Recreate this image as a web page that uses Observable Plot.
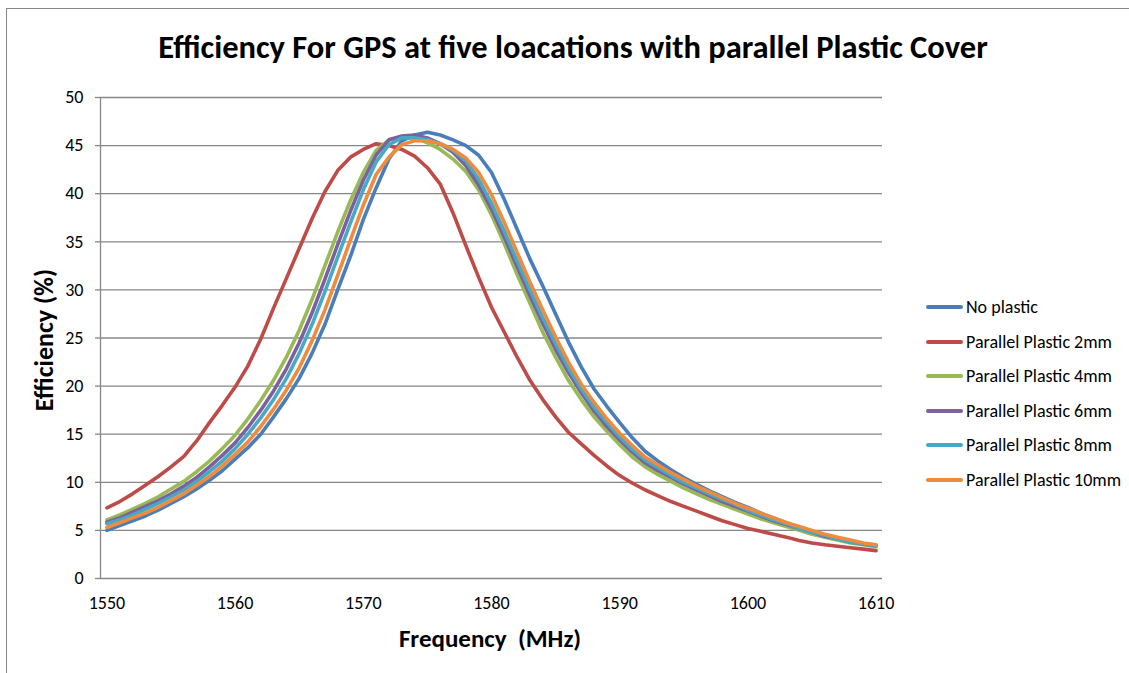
<!DOCTYPE html>
<html>
<head>
<meta charset="utf-8">
<script src="https://cdn.jsdelivr.net/npm/d3@7"></script>
<script src="https://cdn.jsdelivr.net/npm/@observablehq/plot@0.6"></script>
<style>
  html, body { margin: 0; padding: 0; background: #fff; overflow: hidden; }
  #wrap { position: relative; width: 1129px; height: 673px; overflow: hidden; font-family: Carlito, Calibri, Lato, sans-serif; }
  #border { position: absolute; left: 6px; top: 8px; width: 1140px; height: 700px; border: 1px solid #878787; box-sizing: border-box; }
  #title { position: absolute; left: 573px; top: 47px; transform: translate(-50%, -50%); font-weight: bold; font-size: 32.5px; color: #000; white-space: nowrap; line-height: 1; }
  #ylabel { position: absolute; left: 44px; top: 340px; transform: translate(-50%, -50%) rotate(-90deg); font-weight: bold; font-size: 26px; white-space: nowrap; color: #000; line-height: 1; }
  #xlabel { position: absolute; left: 490px; top: 638px; transform: translate(-50%, -50%); font-weight: bold; font-size: 25px; white-space: pre; color: #000; line-height: 1; }
  #chart { position: absolute; left: 0; top: 0; }
  .leg { position: absolute; left: 926px; height: 22px; display: flex; align-items: center; font-size: 18px; color: #000; white-space: nowrap; transform: translateY(-50%); }
  .leg .sw { width: 37px; height: 4px; border-radius: 2px; margin-right: 3px; }
</style>
</head>
<body>
<div id="wrap">
  <div id="border"></div>
  <div id="chart"></div>
  <div id="title"></div>
  <div id="ylabel"></div>
  <div id="xlabel"></div>
</div>
<script>
const titleText = "Efficiency For GPS at five loacations with parallel Plastic Cover";
const xTitle = "Frequency  (MHz)";
const yTitle = "Efficiency (%)";

const freqs = [1550,1551,1552,1553,1554,1555,1556,1557,1558,1559,1560,1561,1562,1563,1564,1565,1566,1567,1568,1569,1570,1571,1572,1573,1574,1575,1576,1577,1578,1579,1580,1581,1582,1583,1584,1585,1586,1587,1588,1589,1590,1591,1592,1593,1594,1595,1596,1597,1598,1599,1600,1601,1602,1603,1604,1605,1606,1607,1608,1609,1610];
const xTicks = [1550,1560,1570,1580,1590,1600,1610];
const yTicks = [0,5,10,15,20,25,30,35,40,45,50];

const seriesNames = ["No plastic","Parallel Plastic 2mm","Parallel Plastic 4mm","Parallel Plastic 6mm","Parallel Plastic 8mm","Parallel Plastic 10mm"];
const seriesColors = ["#4A7EBB","#BE4B48","#98B954","#7D60A0","#46AAC5","#F08A3C"];

const noPlastic = [5.0,5.5,6.0,6.5,7.1,7.8,8.5,9.3,10.2,11.2,12.4,13.6,15.0,16.8,18.7,20.8,23.4,26.4,30.0,33.5,37.3,40.6,43.6,45.5,46.1,46.4,46.1,45.6,45.0,44.0,42.2,39.4,36.3,33.2,30.4,27.5,24.6,22.0,19.7,17.9,16.2,14.6,13.2,12.2,11.3,10.5,9.8,9.1,8.5,7.9,7.4,6.8,6.3,5.8,5.3,4.9,4.5,4.2,3.9,3.6,3.4];
const plastic2 = [7.35,8.0,8.8,9.7,10.6,11.6,12.7,14.3,16.2,18.0,19.9,22.1,24.9,28.1,31.2,34.3,37.4,40.2,42.4,43.8,44.6,45.2,45.0,44.6,43.9,42.7,41.0,38.0,34.6,31.3,28.2,25.6,23.0,20.6,18.6,16.8,15.2,14.0,12.8,11.7,10.7,9.9,9.2,8.6,8.0,7.5,7.0,6.5,6.0,5.6,5.2,4.9,4.6,4.3,3.95,3.7,3.5,3.35,3.2,3.05,2.9];
const plastic4 = [6.1,6.6,7.2,7.8,8.5,9.3,10.1,11.1,12.2,13.5,14.9,16.6,18.5,20.6,23.0,25.8,29.0,32.5,36.0,39.3,42.2,44.5,45.6,45.9,45.8,45.3,44.6,43.6,42.3,40.4,37.8,34.8,31.6,28.6,25.6,23.0,20.6,18.6,16.8,15.3,13.9,12.6,11.6,10.8,10.1,9.4,8.8,8.2,7.7,7.2,6.7,6.2,5.8,5.4,5.0,4.6,4.3,4.0,3.7,3.5,3.3];
const plastic6 = [5.85,6.3,6.9,7.5,8.1,8.8,9.6,10.5,11.6,12.8,14.1,15.7,17.5,19.5,21.8,24.5,27.6,31.1,34.7,38.2,41.4,44.0,45.6,46.0,46.1,45.8,45.2,44.3,42.9,40.9,38.4,35.5,32.4,29.4,26.5,23.8,21.4,19.3,17.4,15.8,14.4,13.1,12.0,11.2,10.5,9.8,9.2,8.6,8.0,7.5,7.0,6.5,6.0,5.6,5.2,4.8,4.4,4.1,3.8,3.6,3.4];
const plastic8 = [5.7,6.1,6.6,7.2,7.8,8.5,9.2,10.1,11.1,12.2,13.5,15.0,16.7,18.6,20.8,23.4,26.4,29.8,33.4,37.0,40.4,43.3,45.1,45.8,45.8,45.6,45.2,44.5,43.4,41.5,39.0,36.1,33.0,30.0,27.1,24.4,21.9,19.7,17.8,16.2,14.7,13.4,12.3,11.5,10.7,10.0,9.4,8.8,8.2,7.7,7.1,6.6,6.1,5.7,5.2,4.8,4.5,4.1,3.8,3.6,3.4];
const plastic10 = [5.3,5.8,6.3,6.8,7.4,8.1,8.8,9.7,10.6,11.7,12.9,14.2,15.8,17.6,19.6,21.9,24.7,27.9,31.5,35.2,38.8,42.0,43.8,45.1,45.5,45.5,45.2,44.6,43.7,42.2,39.9,37.0,33.9,30.8,27.9,25.1,22.5,20.2,18.3,16.6,15.1,13.8,12.6,11.8,11.0,10.3,9.6,9.0,8.4,7.8,7.3,6.8,6.3,5.8,5.4,5.0,4.6,4.3,4.0,3.7,3.5];

const seriesValues = [noPlastic, plastic2, plastic4, plastic6, plastic8, plastic10];

const data = [];
seriesValues.forEach((vals, k) => {
  vals.forEach((v, i) => data.push({f: freqs[i], v, s: seriesNames[k]}));
});

document.getElementById("title").textContent = titleText;
document.getElementById("xlabel").textContent = xTitle;
document.getElementById("ylabel").textContent = yTitle;

const gridColor = "#878787";

const chart = Plot.plot({
  width: 1129,
  height: 673,
  marginLeft: 100,
  marginRight: 247,
  marginTop: 97,
  marginBottom: 95,
  style: {fontFamily: "Carlito, Calibri, Lato, sans-serif", fontSize: "18px", color: "#000", background: "transparent", overflow: "visible"},
  x: {domain: [1549.5, 1610.5], label: null},
  y: {domain: [0, 50], label: null},
  color: {domain: seriesNames, range: seriesColors},
  marks: [
    Plot.gridY(yTicks, {stroke: gridColor, strokeOpacity: 1, strokeWidth: 1.3}),
    Plot.ruleX([1549.5], {y1: 0, y2: 50, stroke: gridColor, strokeWidth: 1.3}),
    Plot.axisY(yTicks, {tickSize: 5, tickPadding: 12, stroke: gridColor, strokeWidth: 1.3, fill: "#000", fontSize: 18, label: null, tickFormat: d => String(d)}),
    Plot.axisX(xTicks, {tickSize: 0, tickPadding: 18, fill: "#000", fontSize: 18, label: null, tickFormat: d => String(d)}),
    Plot.line(data, {x: "f", y: "v", z: "s", stroke: "s", strokeWidth: 3.6, strokeLinejoin: "round", strokeLinecap: "round"})
  ]
});
document.getElementById("chart").appendChild(chart);

const wrap = document.getElementById("wrap");
const legendY = [307, 341.6, 376.2, 410.8, 445.4, 480];
seriesNames.forEach((name, i) => {
  const row = document.createElement("div");
  row.className = "leg";
  row.style.top = legendY[i] + "px";
  const sw = document.createElement("span");
  sw.className = "sw";
  sw.style.background = seriesColors[i];
  const t = document.createElement("span");
  t.textContent = name;
  row.appendChild(sw);
  row.appendChild(t);
  wrap.appendChild(row);
});
</script>
</body>
</html>
